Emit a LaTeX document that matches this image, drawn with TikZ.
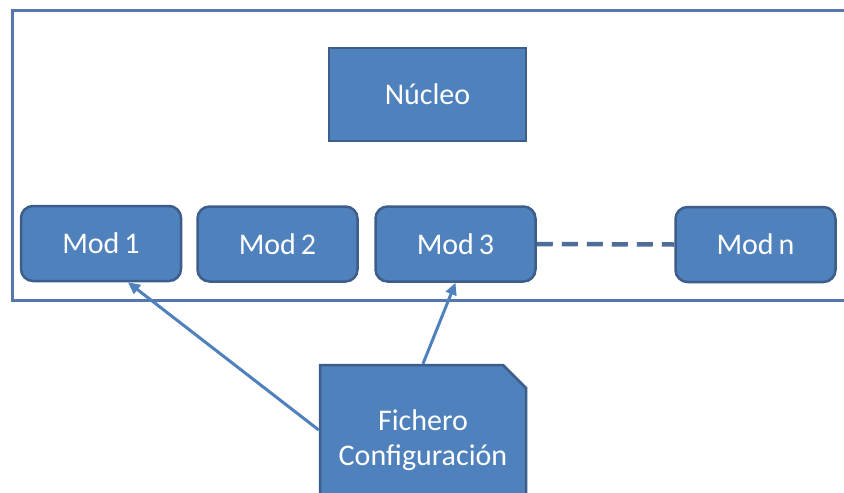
\documentclass[tikz,border=0pt]{standalone}
\usepackage{fontspec}
\setmainfont{Carlito}
\usetikzlibrary{shapes.misc,arrows.meta,calc}

\definecolor{boxfill}{HTML}{4F81BD}
\definecolor{boxline}{HTML}{3D5D8A}
\definecolor{framecol}{HTML}{5577AE}
\definecolor{dashcol}{HTML}{4E6E99}

\begin{document}
\begin{tikzpicture}[
    x=1pt, y=-1pt,
    label font/.style={font=\fontsize{30}{35}\selectfont, text=white},
    modbox/.style={label font, draw=boxline, line width=2.5pt, fill=boxfill,
      rounded corners=12pt, minimum width=160pt, minimum height=75pt, inner sep=0pt},
    corebox/.style={label font, draw=boxline, line width=2.5pt, fill=boxfill,
      minimum width=197pt, minimum height=93pt, inner sep=0pt},
    filebox/.style={label font, draw=boxline, line width=2.5pt, fill=boxfill,
      chamfered rectangle, chamfered rectangle corners=north east,
      chamfered rectangle xsep=12pt, chamfered rectangle ysep=11pt,
      minimum width=206pt, minimum height=150pt, inner sep=0pt, align=center},
    frameline/.style={draw=framecol, line width=3pt},
    conn/.style={draw=boxfill, line width=3pt, -{Triangle[length=12pt,width=11pt]}},
    dashline/.style={draw=dashcol, line width=4.5pt, dash pattern=on 16pt off 9pt}
  ]
  \useasboundingbox (0,0) rectangle (844,493);
  \clip (0,0) rectangle (844,493);
  \fill[white] (0,0) rectangle (844,493);

  % system boundary
  \draw[frameline] (12,10) rectangle (900,300);

  % core and modules
  \node[corebox] (core) at (427.5,94.5) {Núcleo};
  \node[modbox] (m1) at (101,243.5) {Mod\,1};
  \node[modbox] (m2) at (277.5,244) {Mod\,2};
  \node[modbox] (m3) at (455.5,244) {Mod\,3};
  \node[modbox] (mn) at (755.5,244.5) {Mod\,n};

  % configuration file
  \node[filebox] (fich) at (423,440) {Fichero\\Configuración};

  % connectors
  \draw[dashline] (m3.east) -- (mn.west);
  \draw[conn] ($(fich.west)+(0,-10)$) -- ($(m1.south)+(27,0)$);
  \draw[conn] (fich.north) -- (m3.south);
\end{tikzpicture}
\end{document}
